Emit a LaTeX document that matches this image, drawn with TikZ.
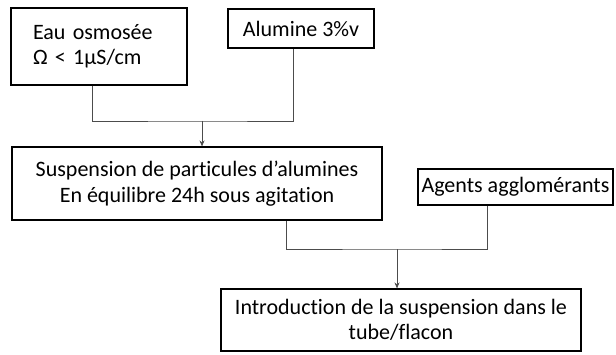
\documentclass[tikz,border=0pt]{standalone}
\usepackage{fontspec}
\setmainfont[Ligatures=NoCommon]{Carlito}
\usetikzlibrary{arrows.meta,positioning}

\begin{document}
\begin{tikzpicture}[x=1pt,y=1pt,>={Stealth[length=6pt,width=5pt]},
    every node/.style={font=\fontsize{22}{25.5}\selectfont},
    bloc/.style={draw,line width=1.1pt,inner sep=0pt,align=center},
    lien/.style={draw=black!70,line width=0.8pt}]
    \useasboundingbox (0,0) rectangle (616,354);
    \node[bloc,minimum width=176,minimum height=77,text width=132,align=left] (eau) at (99,307.5)
      {Eau osmosée\\Ω < 1µS/cm};
    \node[bloc,minimum width=146,minimum height=39] (alu) at (301,325.5) {Alumine 3\%v};
    \node[bloc,minimum width=370,minimum height=73] (susp) at (197,170.5)
      {Suspension de particules d’alumines\\En équilibre 24h sous agitation};
    \node[bloc,minimum width=195,minimum height=36] (agents) at (515.5,167) {Agents agglomérants};
    \node[bloc,minimum width=360,minimum height=62] (intro) at (401,34)
      {Introduction de la suspension dans le\\tube/flacon};
    \coordinate (j1) at (202,233);
    \coordinate (j2) at (397,105);
    \draw[lien] (eau.south -| 92,0) |- (j1) -| (alu.south -| 293,0);
    \draw[lien,->] (j1) -- (j1 |- susp.north);
    \draw[lien] (susp.south -| 286,0) |- (j2) -| (agents.south -| 487,0);
    \draw[lien,->] (j2) -- (j2 |- intro.north);
\end{tikzpicture}
\end{document}
